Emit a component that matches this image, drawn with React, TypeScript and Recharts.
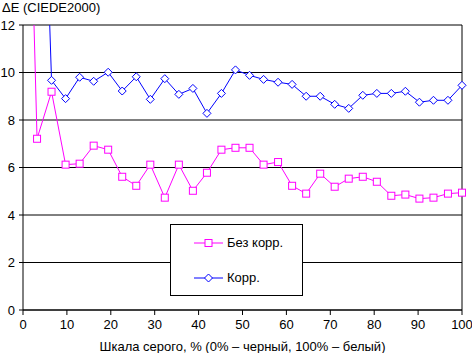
import React from "react";
import { CartesianGrid, Line, LineChart, ReferenceLine, XAxis, YAxis } from "recharts";

// grey level, % (32 steps)
const greyPct = [
  0, 3.2, 6.5, 9.7, 12.9, 16.1, 19.4, 22.6, 25.8, 29.0, 32.3, 35.5, 38.7, 41.9, 45.2, 48.4,
  51.6, 54.8, 58.1, 61.3, 64.5, 67.7, 71.0, 74.2, 77.4, 80.6, 83.9, 87.1, 90.3, 93.5, 96.8, 100,
];
const noCorr = [
  29.4, 7.21, 9.19, 6.12, 6.16, 6.92, 6.75, 5.61, 5.23, 6.12, 4.73, 6.12, 5.02, 5.78, 6.75, 6.83,
  6.83, 6.12, 6.23, 5.23, 4.9, 5.74, 5.19, 5.53, 5.61, 5.4, 4.81, 4.86, 4.69, 4.73, 4.9, 4.94,
];
const withCorr = [
  31, 28.3, 9.67, 8.9, 9.8, 9.63, 10.01, 9.22, 9.82, 8.87, 9.74, 9.08, 9.33, 8.28, 9.12, 10.11,
  9.88, 9.71, 9.59, 9.5, 9.0, 9.0, 8.66, 8.49, 9.04, 9.12, 9.12, 9.21, 8.75, 8.83, 8.83, 9.46,
];
const xTicks = [0, 10, 20, 30, 40, 50, 60, 70, 80, 90, 100];
const yTicks = [0, 2, 4, 6, 8, 10, 12];

const data = greyPct.map((x, i) => ({ x, noCorr: noCorr[i], corr: withCorr[i] }));

const MAGENTA = "#ff00ff";
const BLUE = "#0000ff";
const FONT = "'Liberation Sans', Arial, sans-serif";
const FS = 13;

function Square(props: any) {
  const { cx, cy, index } = props;
  if (cx == null || cy == null) return null;
  return <rect key={`s${index}`} x={cx - 3.5} y={cy - 3.5} width={7} height={7} fill="#fff" stroke={MAGENTA} strokeWidth={1} />;
}

function Diamond(props: any) {
  const { cx, cy, index } = props;
  if (cx == null || cy == null) return null;
  return (
    <path key={`d${index}`} d={`M${cx},${cy - 4}L${cx + 4},${cy}L${cx},${cy + 4}L${cx - 4},${cy}Z`} fill="#fff" stroke={BLUE} strokeWidth={1} />
  );
}

// legend box drawn outside recharts so it doesn't eat plot space
function LegendBox() {
  const row = (label: string, color: string, marker: React.ReactNode) => (
    <div style={{ display: "flex", alignItems: "center", height: 35 }}>
      <svg width={30} height={10} style={{ marginLeft: 23, marginRight: 3 }}>
        <line x1={0} y1={5} x2={29} y2={5} stroke={color} />
        {marker}
      </svg>
      <span>{label}</span>
    </div>
  );
  return (
    <div
      style={{
        position: "absolute", left: 170, top: 224, width: 131, height: 70,
        border: "1px solid #000", background: "#fff", fontFamily: FONT, fontSize: FS, color: "#000",
      }}
    >
      {row("Без корр.", MAGENTA, <rect x={11} y={1.5} width={7} height={7} fill="#fff" stroke={MAGENTA} />)}
      {row("Корр.", BLUE, <path d="M14.5,1L18.5,5L14.5,9L10.5,5Z" fill="#fff" stroke={BLUE} />)}
    </div>
  );
}

export default function App() {
  return (
    <div style={{ position: "absolute", left: 0, top: 0, width: 472, height: 353, background: "#fff" }}>
      <LineChart width={472} height={353} data={data} margin={{ top: 25, right: 10, bottom: 0, left: 0 }}>
        <CartesianGrid vertical={false} stroke="#000" strokeWidth={1} />
        <XAxis
          dataKey="x"
          type="number"
          domain={[0, 100]}
          ticks={xTicks}
          height={43}
          tickSize={5}
          tickMargin={5}
          stroke="#000"
          tick={{ fill: "#000", fontSize: FS, fontFamily: FONT }}
          label={{ value: "Шкала серого, % (0% – черный, 100% – белый)", position: "insideBottom", offset: 2, fill: "#000", fontSize: FS, fontFamily: FONT }}
        />
        <YAxis
          type="number"
          domain={[0, 12]}
          ticks={yTicks}
          allowDataOverflow
          width={23}
          tickSize={4}
          tickMargin={4}
          stroke="#000"
          tick={{ fill: "#000", fontSize: FS, fontFamily: FONT }}
        />
        <ReferenceLine x={100} stroke="#000" />
        <Line dataKey="noCorr" stroke={MAGENTA} strokeWidth={1} dot={Square} activeDot={false} isAnimationActive={false} />
        <Line dataKey="corr" stroke={BLUE} strokeWidth={1} dot={Diamond} activeDot={false} isAnimationActive={false} />
      </LineChart>
      <div style={{ position: "absolute", left: 2, top: 0, fontFamily: FONT, fontSize: FS, color: "#000" }}>
        ΔE (CIEDE2000)
      </div>
      <LegendBox />
    </div>
  );
}
